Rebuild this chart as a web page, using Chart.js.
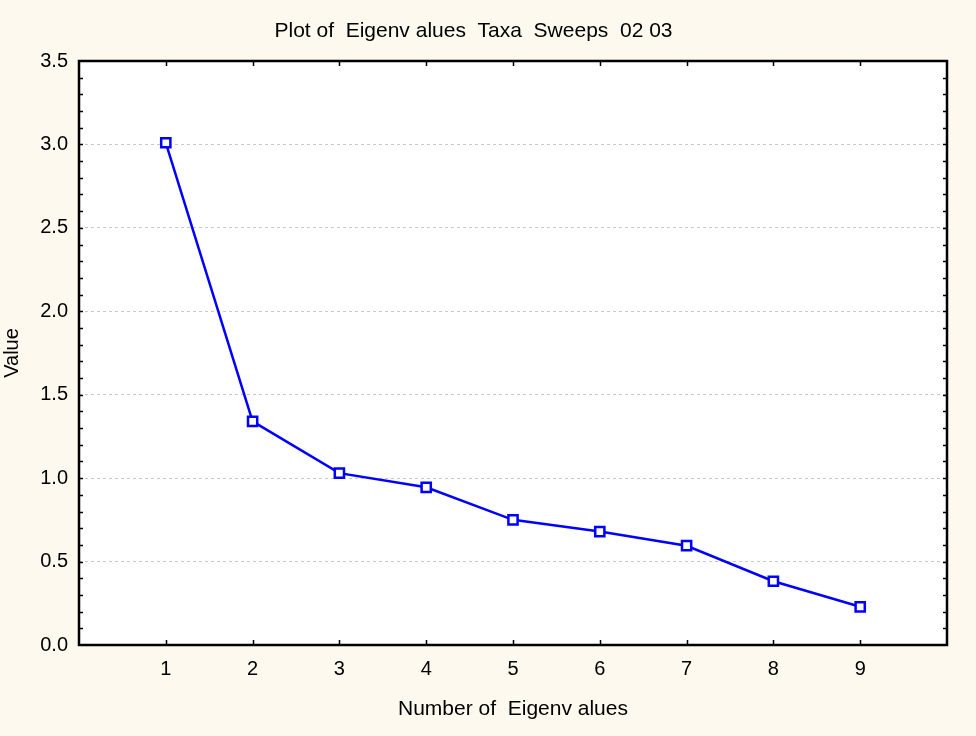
<!DOCTYPE html>
<html>
<head>
<meta charset="utf-8">
<script src="https://cdn.jsdelivr.net/npm/chart.js@4.4.1/dist/chart.umd.min.js"></script>
<style>
  html, body { margin: 0; padding: 0; background: #fdf9ee; }
  #wrap { width: 976px; height: 736px; }
</style>
</head>
<body>
<div id="wrap"><canvas id="eigenChart" width="976" height="736"></canvas></div>
<script>
const eigenNumbers = [1, 2, 3, 4, 5, 6, 7, 8, 9];
const eigenValues = [3.01, 1.34, 1.03, 0.945, 0.75, 0.68, 0.595, 0.382, 0.229];
const yMinorStep = 0.1;

const FONT = "'Liberation Sans', Arial, sans-serif";
const ctxEl = document.getElementById("eigenChart");

// frame around the plot plus the small inward tick marks
const frameTicks = {
  id: "frameTicks",
  afterDraw(chart) {
    const { ctx, chartArea: a, scales } = chart;
    const x = scales.x;
    const y = scales.y;
    ctx.save();
    ctx.strokeStyle = "#000";
    ctx.lineWidth = 1.5;
    ctx.beginPath();
    for (let v = yMinorStep; v < y.max - 0.001; v += yMinorStep) {
      const py = Math.round(y.getPixelForValue(v)) + 0.5;
      ctx.moveTo(a.left, py);
      ctx.lineTo(a.left + 4, py);
      ctx.moveTo(a.right, py);
      ctx.lineTo(a.right - 4, py);
    }
    eigenNumbers.forEach((n) => {
      const px = Math.round(x.getPixelForValue(n)) + 0.5;
      ctx.moveTo(px, a.top);
      ctx.lineTo(px, a.top + 5);
      ctx.moveTo(px, a.bottom);
      ctx.lineTo(px, a.bottom - 5);
    });
    ctx.stroke();
    ctx.lineWidth = 2.5;
    ctx.strokeRect(a.left, a.top, a.right - a.left, a.bottom - a.top);
    ctx.restore();
  },
  beforeDraw(chart) {
    const { ctx, chartArea: a } = chart;
    ctx.save();
    ctx.fillStyle = "#fdf9ee";
    ctx.fillRect(0, 0, chart.width, chart.height);
    ctx.fillStyle = "#ffffff";
    ctx.fillRect(a.left, a.top, a.right - a.left, a.bottom - a.top);
    ctx.restore();
  },
};

new Chart(ctxEl, {
  type: "line",
  data: {
    datasets: [
      {
        label: "Value",
        data: eigenNumbers.map((n, i) => ({ x: n, y: eigenValues[i] })),
        borderColor: "#0000ff",
        borderWidth: 2.5,
        pointStyle: "rect",
        pointRadius: 6.5,
        pointBorderWidth: 2.5,
        pointBackgroundColor: "#ffffff",
        pointBorderColor: "#0000ff",
        tension: 0,
      },
    ],
  },
  plugins: [frameTicks],
  options: {
    responsive: false,
    animation: false,
    layout: { padding: { right: 29 } },
    plugins: {
      legend: { display: false },
      tooltip: { enabled: false },
      title: {
        display: true,
        text: "Plot of  Eigenv alues  Taxa  Sweeps  02 03",
        color: "#000",
        font: { family: FONT, size: 21, weight: "normal" },
        padding: { top: 19, bottom: 16.8 },
      },
    },
    scales: {
      x: {
        type: "linear",
        min: 0,
        max: 10,
        afterFit(scale) {
          scale.height = 91;
        },
        grid: { display: false },
        border: { display: false },
        ticks: {
          stepSize: 1,
          padding: 4,
          color: "#000",
          font: { family: FONT, size: 20 },
          maxRotation: 0,
          callback: (v) => (v >= 1 && v <= 9 ? String(v) : ""),
        },
        title: {
          display: true,
          text: "Number of  Eigenv alues",
          color: "#000",
          font: { family: FONT, size: 21 },
          padding: { top: 0, bottom: 14 },
        },
      },
      y: {
        min: 0,
        max: 3.5,
        afterFit(scale) {
          scale.width = 79;
        },
        grid: {
          color: (c) => (c.tick.value > 0 && c.tick.value < 3.5 ? "#c8c8c8" : "rgba(0,0,0,0)"),
          lineWidth: 1,
          drawTicks: false,
        },
        border: { display: false, dash: [3, 3] },
        ticks: {
          stepSize: 0.5,
          padding: 11,
          color: "#000",
          font: { family: FONT, size: 20 },
          callback: (v) => v.toFixed(1),
        },
        title: {
          display: true,
          text: "Value",
          color: "#000",
          font: { family: FONT, size: 20 },
          padding: { top: 0, bottom: 0 },
        },
      },
    },
  },
});
</script>
</body>
</html>
